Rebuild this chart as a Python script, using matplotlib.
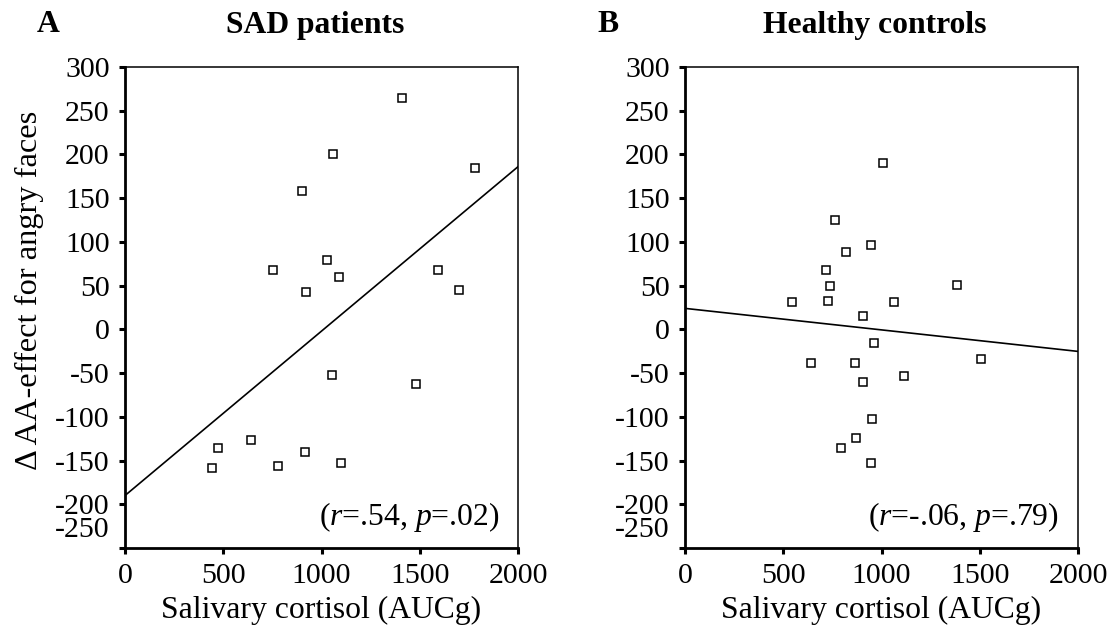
import numpy as np
import matplotlib
matplotlib.use("Agg")
import matplotlib.pyplot as plt
import matplotlib.transforms as mtransforms

plt.rcParams['font.family'] = ['Liberation Serif', 'DejaVu Serif']
plt.rcParams['mathtext.fontset'] = 'custom'
plt.rcParams['mathtext.rm'] = 'Liberation Serif'
plt.rcParams['mathtext.it'] = 'Liberation Serif:italic'
plt.rcParams['axes.unicode_minus'] = False

# SAD patients (panel A)
sad_cortisol = [1411, 1060, 1780, 899, 755, 1030, 1091, 923, 1595, 1701,
                1053, 1481, 472, 443, 641, 779, 918, 1099]
sad_effect = [264, 200, 185, 158, 68, 79, 60, 43, 68, 45,
              -52, -62, -136, -158, -127, -156, -140, -153]
sad_fit = (-190, 0.188)   # intercept, slope
sad_stats = "(${r}$=.54, ${p}$=.02)"

# Healthy controls (panel B)
hc_cortisol = [1008, 763, 947, 818, 718, 740, 543, 726, 1062, 1383, 907,
               963, 641, 863, 907, 1115, 1505, 953, 872, 794, 947]
hc_effect = [190, 125, 97, 89, 68, 50, 31, 33, 31, 51, 15,
             -16, -39, -39, -60, -53, -34, -102, -124, -136, -153]
hc_fit = (24, -0.0246)
hc_stats = "(${r}$=-.06, ${p}$=.79)"

yticks = list(range(-250, 301, 50))
xticks = [0, 500, 1000, 1500, 2000]

W, H = 1115, 639
fig = plt.figure(figsize=(W / 100, H / 100), dpi=100)
fs = 21.5
lfs = 22.8

panels = [
    ("A", "SAD patients", sad_cortisol, sad_effect, sad_fit, sad_stats, 125),
    ("B", "Healthy controls", hc_cortisol, hc_effect, hc_fit, hc_stats, 685),
]

for i, (letter, title, xs, ys, fit, stats, left_px) in enumerate(panels):
    ax = fig.add_axes([left_px / W, 1 - 548 / H, 393 / W, 481 / H])
    ax.plot(xs, ys, linestyle='none', marker='s', ms=6, mfc='white',
            mec='black', mew=1.1, zorder=3)
    xl = np.array([0, 2000])
    ax.plot(xl, fit[0] + fit[1] * xl, color='black', lw=1.2, zorder=2)
    ax.set_xlim(0, 2000)
    ax.set_ylim(-250, 300)
    ax.set_xticks(xticks)
    ax.set_yticks(yticks)
    ax.tick_params(axis='both', direction='out', length=4, width=2.2,
                   labelsize=fs, pad=7)
    for side in ('left', 'bottom'):
        ax.spines[side].set_linewidth(2)
    for side in ('top', 'right'):
        ax.spines[side].set_linewidth(1.1)
    # lowest y label is pushed up in the original
    lab = ax.get_yticklabels()[0]
    lab.set_transform(lab.get_transform() +
                      mtransforms.ScaledTranslation(0, 21 / 100, fig.dpi_scale_trans))
    ax.set_xlabel("Salivary cortisol (AUCg)", fontsize=lfs, labelpad=5)
    if i == 0:
        ax.set_ylabel("Δ AA-effect for angry faces", fontsize=lfs + 0.5)
        ax.yaxis.set_label_coords(-(125 - 44) / 393, (548 - 290) / 481)
    ax.text(0.952, 0.065, stats, transform=ax.transAxes, ha='right',
            va='center', fontsize=lfs)
    fig.text((left_px + 190) / W, 1 - 26 / H, title, ha='center',
             va='center', fontsize=lfs, fontweight='bold')
    fig.text((left_px - 77) / W, 1 - 25 / H, letter, ha='center',
             va='center', fontsize=lfs, fontweight='bold')

fig.savefig("out.png", dpi=100)
